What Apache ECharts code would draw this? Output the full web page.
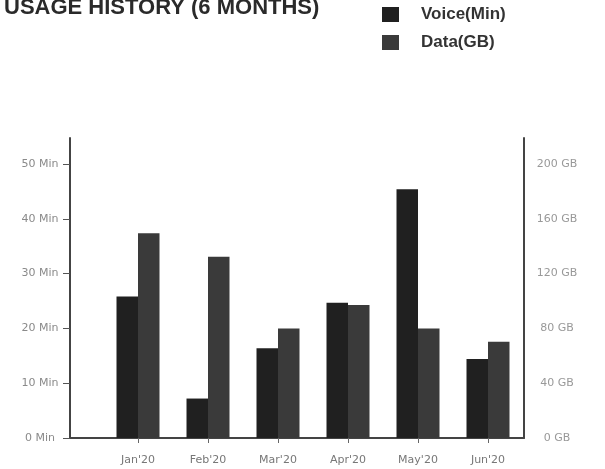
<!DOCTYPE html>
<html>
<head>
<meta charset="utf-8">
<script src="https://cdn.jsdelivr.net/npm/echarts@6/dist/echarts.min.js"></script>
<style>html,body{margin:0;padding:0;background:#fff;}#c{width:605px;height:469px;}</style>
</head>
<body>
<div id="c"></div>
<script>
const months = ["Jan'20", "Feb'20", "Mar'20", "Apr'20", "May'20", "Jun'20"];
const voiceMin = [25.8, 7.2, 16.4, 24.7, 45.4, 14.4];
const dataGB = [149.4, 132.3, 80, 97, 80, 70.3];
const voiceTicks = { min: 0, max: 50, interval: 10 };
const dataTicks = { min: 0, max: 200, interval: 40 };
const titleText = 'USAGE HISTORY (6 MONTHS)';
const seriesNames = ['Voice(Min)', 'Data(GB)'];

const chart = echarts.init(document.getElementById('c'), null, { renderer: 'canvas' });
const axisColor = '#444';
chart.setOption({
  backgroundColor: '#ffffff',
  animation: false,
  title: {
    text: titleText, left: -1, top: -8,
    textStyle: { fontFamily: 'Liberation Sans', fontWeight: 'bold', fontSize: 22, color: '#2a2a2a' }
  },
  legend: {
    orient: 'vertical', left: 377, top: 1,
    itemWidth: 17, itemHeight: 15, itemGap: 11,
    icon: 'rect',
    data: seriesNames,
    textStyle: { fontFamily: 'Liberation Sans', fontWeight: 'bold', fontSize: 17, color: '#333', padding: [0, 0, 0, 17] }
  },
  grid: [
    { left: 70, right: 81, top: 138, bottom: 31 },
    { left: 103, right: 82, top: 164, bottom: 31 }
  ],
  xAxis: [
    { type: 'category', gridIndex: 0, data: months,
      axisLine: { show: true, lineStyle: { color: axisColor, width: 2 } },
      axisTick: { show: false }, axisLabel: { show: false }, splitLine: { show: false } },
    { type: 'category', gridIndex: 1, data: months,
      axisLine: { show: false },
      axisTick: { show: true, alignWithLabel: true, length: 5, lineStyle: { color: '#666' } },
      axisLabel: { fontFamily: 'DejaVu Sans', fontSize: 11, color: '#777', margin: 17 },
      splitLine: { show: false } }
  ],
  yAxis: [
    { type: 'value', gridIndex: 0, position: 'left', min: 0, max: 1,
      axisLine: { show: true, lineStyle: { color: axisColor, width: 2 } },
      axisTick: { show: false }, axisLabel: { show: false }, splitLine: { show: false } },
    { type: 'value', gridIndex: 0, position: 'right', min: 0, max: 1,
      axisLine: { show: true, lineStyle: { color: axisColor, width: 2 } },
      axisTick: { show: false }, axisLabel: { show: false }, splitLine: { show: false } },
    { type: 'value', gridIndex: 1, position: 'left', offset: 33,
      min: voiceTicks.min, max: voiceTicks.max, interval: voiceTicks.interval,
      axisLine: { show: false },
      axisTick: { show: true, length: 7, lineStyle: { color: '#555' } },
      axisLabel: { formatter: '{value} Min', align: 'center', margin: 30, fontFamily: 'DejaVu Sans', fontSize: 11, color: '#8a8a8a' },
      splitLine: { show: false } },
    { type: 'value', gridIndex: 1, position: 'right', offset: 1,
      min: dataTicks.min, max: dataTicks.max, interval: dataTicks.interval,
      axisLine: { show: false },
      axisTick: { show: false },
      axisLabel: { formatter: '{value} GB', align: 'center', margin: 33, fontFamily: 'DejaVu Sans', fontSize: 11, color: '#999' },
      splitLine: { show: false } }
  ],
  series: [
    { name: seriesNames[0], type: 'bar', xAxisIndex: 1, yAxisIndex: 2, data: voiceMin,
      barWidth: 21.5, barGap: '0%', itemStyle: { color: '#202020' } },
    { name: seriesNames[1], type: 'bar', xAxisIndex: 1, yAxisIndex: 3, data: dataGB,
      barWidth: 21.5, barGap: '0%', itemStyle: { color: '#3a3a3a' } }
  ]
});
</script>
</body>
</html>
